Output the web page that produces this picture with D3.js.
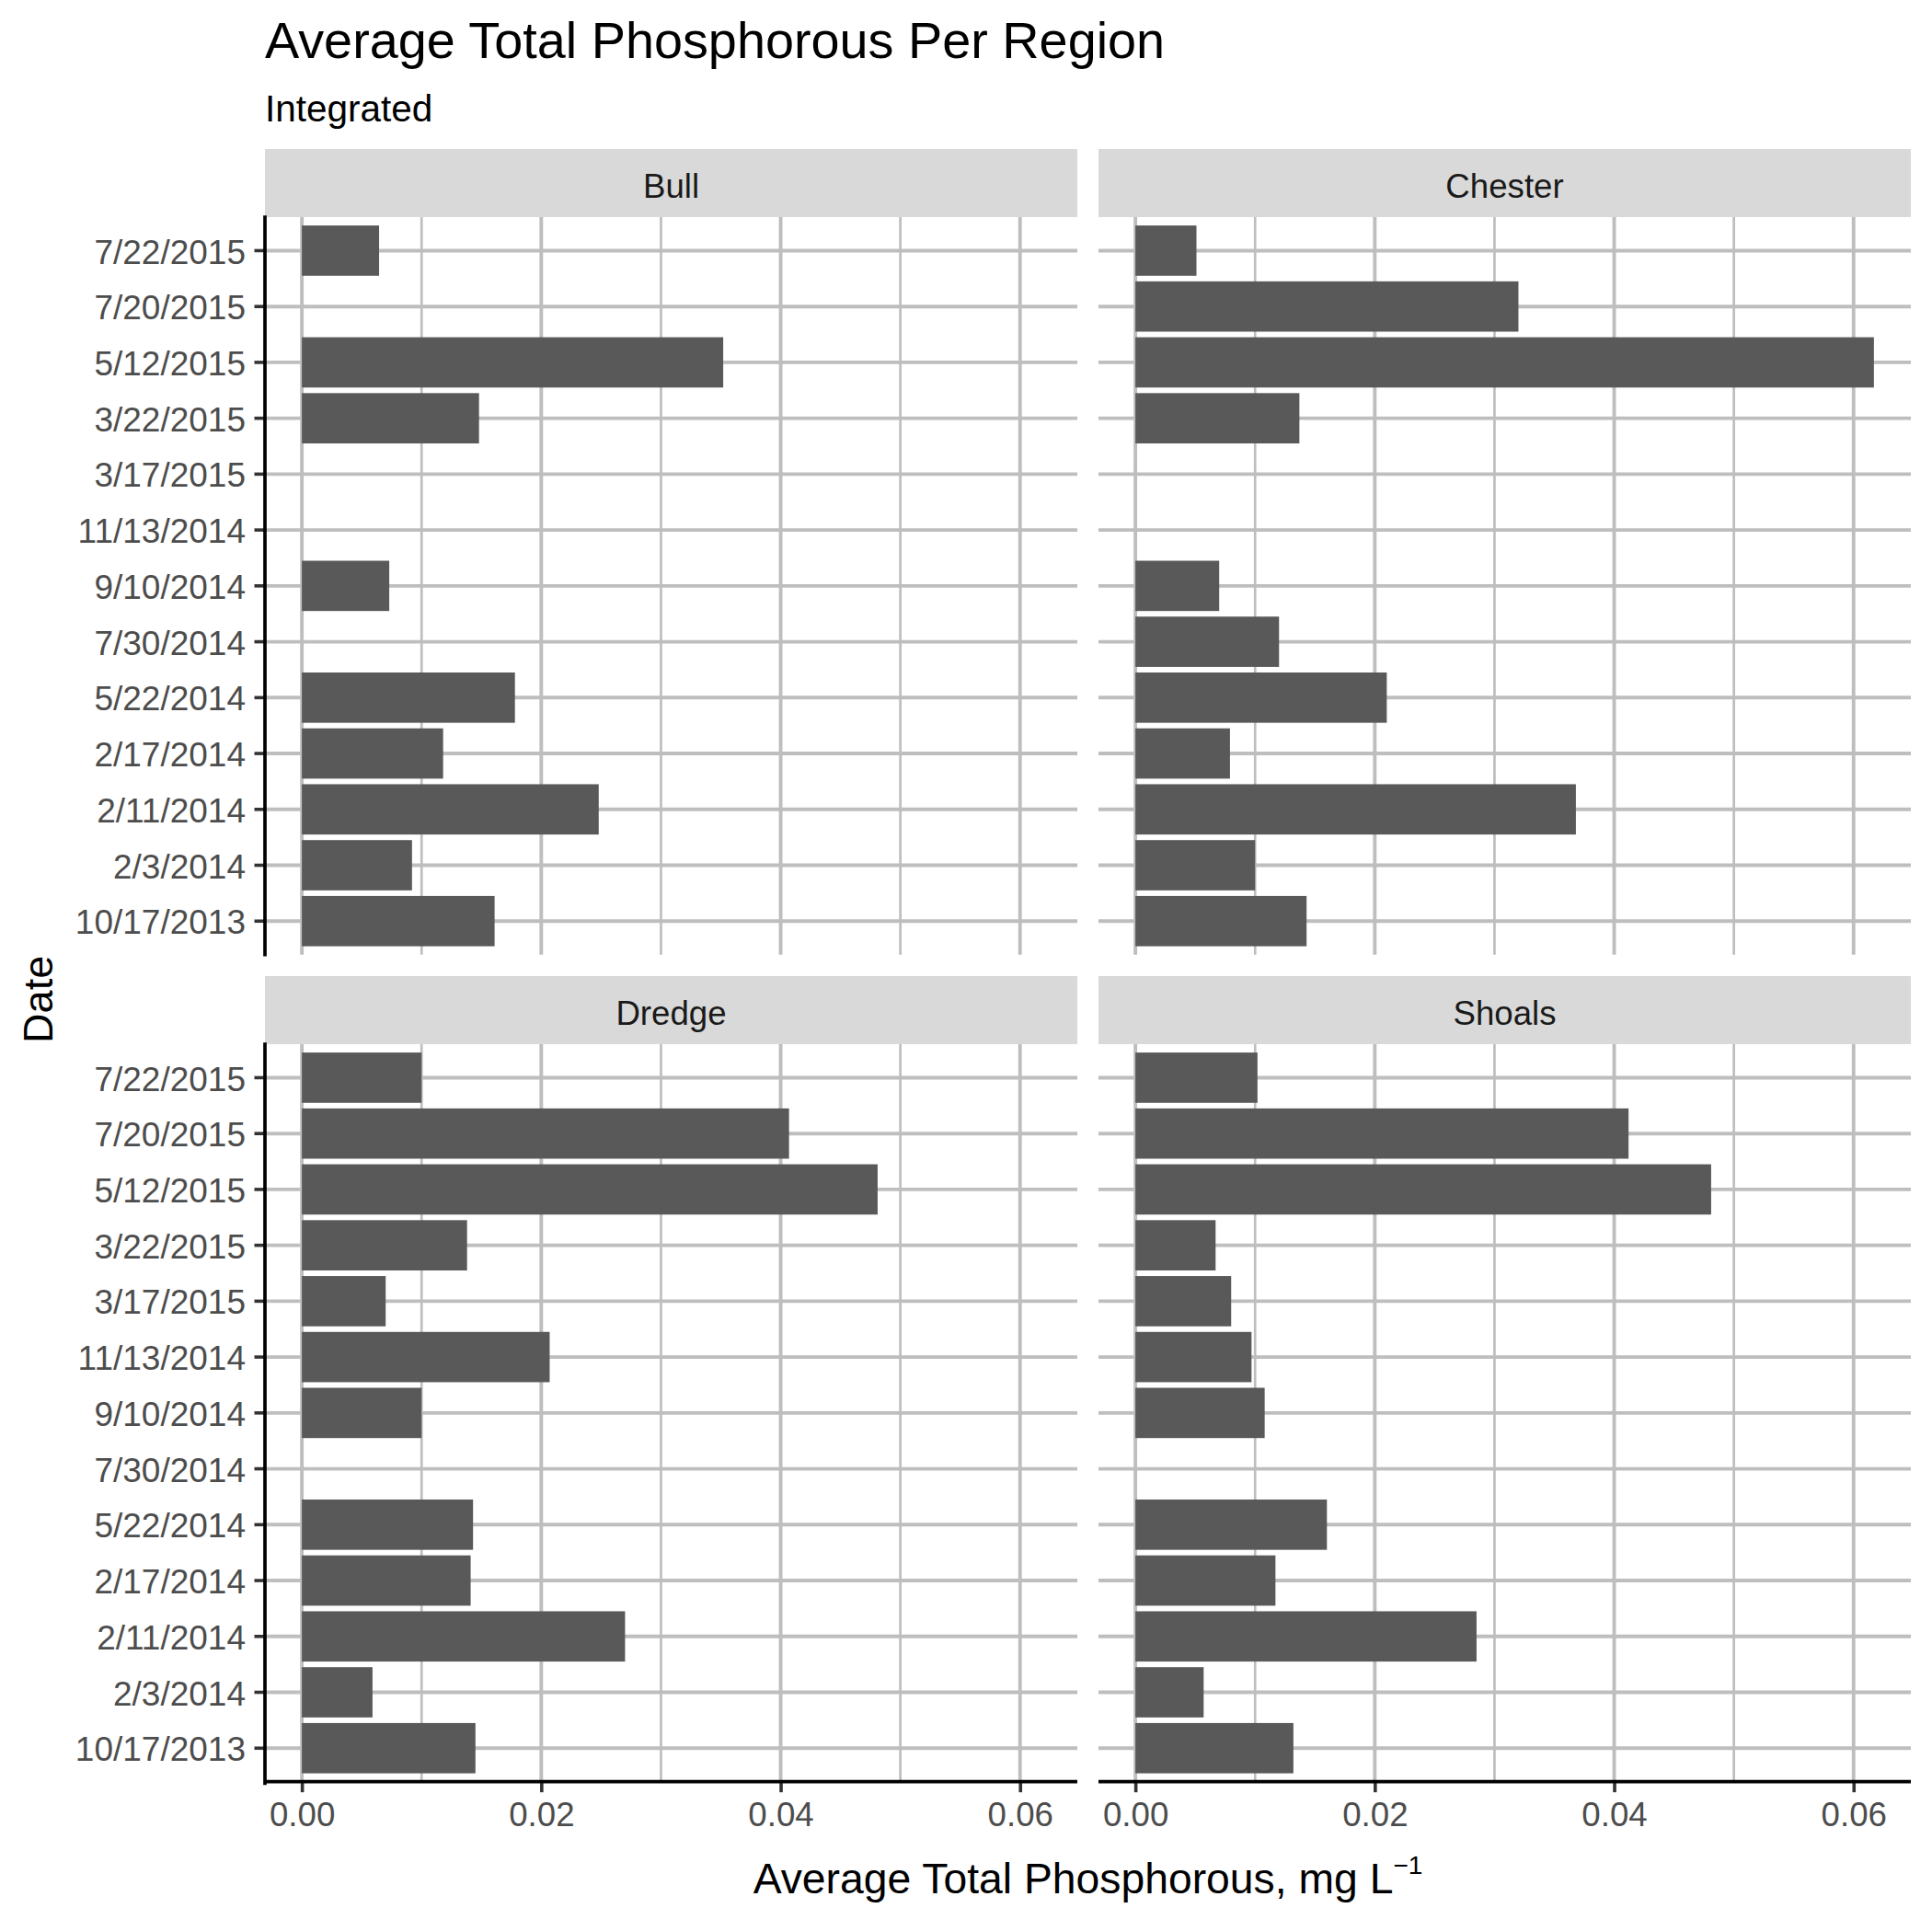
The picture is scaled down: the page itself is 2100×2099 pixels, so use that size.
<!DOCTYPE html>
<html>
<head>
<meta charset="utf-8">
<script src="https://cdn.jsdelivr.net/npm/d3@7"></script>
<style>
  html, body { margin: 0; padding: 0; background: #fff; }
  svg { display: block; font-family: "Liberation Sans", Arial, sans-serif; }
</style>
</head>
<body>
<svg id="chart" width="2100" height="2099"></svg>
<script>
// ---------------- data ----------------
const dates = ["7/22/2015", "7/20/2015", "5/12/2015", "3/22/2015", "3/17/2015", "11/13/2014",
  "9/10/2014", "7/30/2014", "5/22/2014", "2/17/2014", "2/11/2014", "2/3/2014", "10/17/2013"];
const regions = ["Bull", "Chester", "Dredge", "Shoals"];
const bull    = [0.00645, null, 0.0352, 0.0148, null, null, 0.0073, null, 0.0178, 0.0118, 0.0248, 0.0092, 0.0161];
const chester = [0.0051, 0.0320, 0.0617, 0.0137, null, null, 0.0070, 0.0120, 0.0210, 0.0079, 0.0368, 0.0100, 0.0143];
const dredge  = [0.0100, 0.0407, 0.0481, 0.0138, 0.0070, 0.0207, 0.0100, null, 0.0143, 0.0141, 0.0270, 0.0059, 0.0145];
const shoals  = [0.0102, 0.0412, 0.0481, 0.0067, 0.0080, 0.0097, 0.0108, null, 0.0160, 0.0117, 0.0285, 0.0057, 0.0132];
const xTicks = [0, 0.02, 0.04, 0.06];
const xMinor = [0.01, 0.03, 0.05];
const titleText = "Average Total Phosphorous Per Region";
const subtitleText = "Integrated";
const xTitle = "Average Total Phosphorous, mg L";
const xTitleSup = "\u22121";
const yTitle = "Date";

const seriesByRegion = { Bull: bull, Chester: chester, Dredge: dredge, Shoals: shoals };

// ---------------- layout ----------------
const svg = d3.select("#chart");
const panelLeft = 288, panelRight = 2077, gap = 23;
const panelW = (panelRight - panelLeft - gap) / 2;
const stripH = 74;
const rows = [{ stripTop: 162 }, { stripTop: 1061 }];
const panelH = 801.7;

const grid = "#BEBEBE", barFill = "#595959";
const axisFont = 37;

const allVals = [].concat(bull, chester, dredge, shoals).filter(v => v != null);
const vmax = d3.max(allVals);
const expand = 0.05 * vmax;

// title
svg.append("text").attr("x", panelLeft).attr("y", 63)
  .attr("font-size", 55.8).attr("fill", "#000").text(titleText);
svg.append("text").attr("x", panelLeft).attr("y", 132)
  .attr("font-size", 40.5).attr("fill", "#000").text(subtitleText);

regions.forEach((reg, i) => {
  const col = i % 2, row = Math.floor(i / 2);
  const x0 = panelLeft + col * (panelW + gap);
  const stripTop = rows[row].stripTop;
  const top = stripTop + stripH;
  const g = svg.append("g");

  const x = d3.scaleLinear().domain([-expand, vmax + expand]).range([x0, x0 + panelW]);
  const y = d3.scaleBand().domain(dates).range([top, top + panelH])
    .paddingInner(0.1).paddingOuter(0.15);

  // strip
  g.append("rect").attr("x", x0).attr("y", stripTop).attr("width", panelW).attr("height", stripH)
    .attr("fill", "#D9D9D9");
  g.append("text").attr("x", x0 + panelW / 2).attr("y", stripTop + stripH / 2 + 15.5)
    .attr("text-anchor", "middle").attr("font-size", 36.67).attr("fill", "#1A1A1A").text(reg);

  // grid
  g.selectAll(".minor").data(xMinor).join("line")
    .attr("x1", d => x(d)).attr("x2", d => x(d)).attr("y1", top).attr("y2", top + panelH)
    .attr("stroke", grid).attr("stroke-width", 2.7);
  g.selectAll(".majorx").data(xTicks).join("line")
    .attr("x1", d => x(d)).attr("x2", d => x(d)).attr("y1", top).attr("y2", top + panelH)
    .attr("stroke", grid).attr("stroke-width", 3.9);
  g.selectAll(".majory").data(dates).join("line")
    .attr("x1", x0).attr("x2", x0 + panelW)
    .attr("y1", d => y(d) + y.bandwidth() / 2).attr("y2", d => y(d) + y.bandwidth() / 2)
    .attr("stroke", grid).attr("stroke-width", 3.9);

  // bars
  const vals = seriesByRegion[reg];
  const data = dates.map((d, k) => ({ date: d, v: vals[k] })).filter(d => d.v != null);
  g.selectAll(".bar").data(data).join("rect")
    .attr("x", x(0)).attr("y", d => y(d.date))
    .attr("width", d => x(d.v) - x(0)).attr("height", y.bandwidth())
    .attr("fill", barFill);

  // y axis (left column)
  if (col === 0) {
    const ax = g.append("g").attr("transform", `translate(${x0},0)`)
      .call(d3.axisLeft(y).tickSize(11.5).tickPadding(9.5));
    ax.select(".domain").remove();
    ax.selectAll(".tick line").attr("stroke", "#333333").attr("stroke-width", 3.6);
    ax.selectAll(".tick text").attr("font-size", axisFont).attr("fill", "#4D4D4D")
      .attr("font-family", "Liberation Sans, Arial, sans-serif").attr("dy", "0.38em");
    g.append("line").attr("x1", x0).attr("x2", x0).attr("y1", top).attr("y2", top + panelH + (row === 1 ? 1.8 : 0))
      .attr("stroke", "#000").attr("stroke-width", 3.7).attr("stroke-linecap", "square");
  }
  // x axis (bottom row)
  if (row === 1) {
    const ax = g.append("g").attr("transform", `translate(0,${top + panelH})`)
      .call(d3.axisBottom(x).tickValues(xTicks).tickFormat(d3.format(".2f")).tickSize(11.5).tickPadding(11));
    ax.select(".domain").remove();
    ax.selectAll(".tick line").attr("stroke", "#333333").attr("stroke-width", 3.6);
    ax.selectAll(".tick text").attr("font-size", 36.67).attr("fill", "#4D4D4D")
      .attr("font-family", "Liberation Sans, Arial, sans-serif");
    g.append("line").attr("x1", x0).attr("x2", x0 + panelW).attr("y1", top + panelH).attr("y2", top + panelH)
      .attr("stroke", "#000").attr("stroke-width", 3.7);
  }
});

// axis titles
const xt = svg.append("text").attr("x", (panelLeft + panelRight) / 2).attr("y", 2058)
  .attr("text-anchor", "middle").attr("font-size", 46.3).attr("fill", "#000");
xt.append("tspan").text(xTitle);
xt.append("tspan").attr("font-size", 28).attr("dy", -21).text(xTitleSup);

svg.append("text").attr("transform", `translate(57,${rows[0].stripTop + stripH + (1936.7 - 236) / 2}) rotate(-90)`)
  .attr("text-anchor", "middle").attr("font-size", 45).attr("fill", "#000").text(yTitle);
</script>
</body>
</html>
